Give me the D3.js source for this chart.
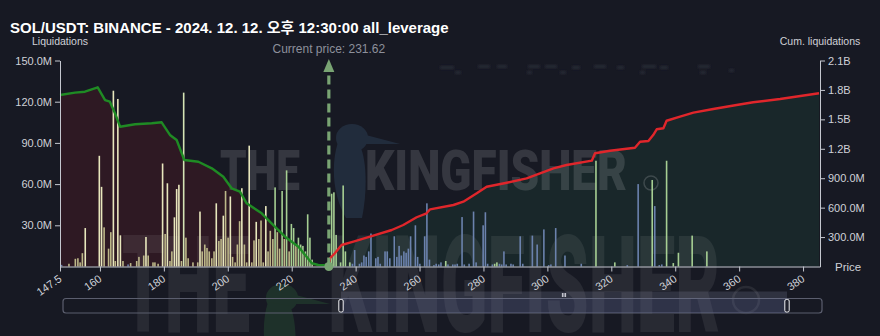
<!DOCTYPE html>
<html>
<head>
<meta charset="utf-8">
<script src="https://cdn.jsdelivr.net/npm/d3@7"></script>
<style>
  html, body { margin: 0; padding: 0; background: #171923; }
  svg { display: block; font-family: "Liberation Sans", Arial, "Noto Sans CJK KR", sans-serif; }
</style>
</head>
<body>
<svg id="chart" width="880" height="336"></svg>
<script>
// ---- chart data -----------------------------------------------------------
const titleText = "SOL/USDT: BINANCE - 2024. 12. 12. 오후 12:30:00 all_leverage";
const currentPrice = 231.62;
const priceDomain = [147.5, 385.3];
const priceTicks = [147.5, 160, 180, 200, 220, 240, 260, 280, 300, 320, 340, 360, 380];
const liqTicks = [30e6, 60e6, 90e6, 120e6, 150e6];
const cumTicks = [300e6, 600e6, 900e6, 1.2e9, 1.5e9, 1.8e9, 2.1e9];

// liquidation levels below the current price (price, millions USD, colour tier)
const longPrices = [148.0,150.3,152.3,153.1,153.8,154.5,155.4,159.8,160.5,161.3,162.7,163.4,164.2,164.8,165.6,166.4,167.2,168.8,169.6,171.5,172.2,173.7,174.4,175.1,176.6,177.2,178.2,179.6,180.4,181.1,181.9,182.5,183.3,184.0,184.7,185.5,186.2,186.9,187.6,189.1,190.6,191.3,192.0,192.8,193.5,194.2,195.0,195.7,196.4,197.2,197.9,198.6,199.3,200.1,200.8,201.5,202.3,203.0,203.7,204.4,205.2,205.9,206.7,207.5,208.2,208.9,209.7,210.4,211.1,211.9,212.6,213.3,214.1,214.8,215.5,216.2,217.0,217.7,218.4,219.2,219.9,220.6,221.3,222.1,222.8,223.5,224.3,225.0,225.7,226.4];
const longValues = [1.2,2,5.6,6,3,9.7,28,80.6,58,28.5,13,25,128,4,122,22.7,4,1.5,2.5,4,7,8,21.5,8,3,3,2,75,23.7,60.6,4,11,35.8,56.4,59.5,4,126.6,21,6,3,3,40,11,16,13.5,11,6,11,46,18.6,20,37,55,21,51,7,3,16,33,57,16,3,88,3,19,32.5,20,33.5,3,44,11,26,20,57.6,25,13,55,20,70,11,31,28,16,21,16,15,11,38,21,5];
const longTiers = ["b","k","k","k","k","k","c","c","c","k","k","k","c","k","c","c","k","b","k","k","k","k","c","k","k","k","k","c","k","c","k","k","c","c","c","k","l","k","k","k","k","c","k","k","k","k","k","k","c","k","k","c","k","k","c","k","k","k","k","c","k","k","c","k","k","c","k","k","k","c","k","k","k","g","k","k","g","k","g","k","g","g","k","g","g","g","g","g","g","g"];

// liquidation levels above the current price
const shortPrices = [232.5,233.2,233.9,235.3,236.1,236.8,238.2,239.0,239.7,241.2,241.9,242.6,243.3,244.1,244.8,246.3,247.0,247.7,249.2,249.9,250.7,252.1,252.9,253.6,254.3,255.1,255.8,256.5,257.2,258.7,259.4,260.1,261.6,262.3,263.1,264.5,265.2,266.0,266.7,268.2,268.9,270.4,271.1,271.8,273.3,274.0,275.5,276.9,277.7,279.9,280.6,281.3,282.8,283.5,284.2,285.0,285.7,286.4,287.1,288.6,289.3,291.5,292.3,295.3,296.8,298.9,300.4,301.1,302.6,305.5,310.6,315.2,321.1,325.0,328.4,332.8,333.6,335.0,335.8,337.3,339.4,341.0,345.3,349.9];
const shortValues = [53,54,23,3,59,11,3,2,12,2,3,8,7,11,24,6,7,2,11,11,6,22,7,15,8,11,10,13,22,30,7,2,22,46,5,1,2,1.5,3,4,1.5,1.5,1.5,2,36,1.5,2,40,3,30,39.5,2,1.5,2,3,2,1.5,11,1.5,2,1.5,22,2,22.5,16,27,1,1.5,28,8,2,77,3,1,60,63,44,1,1.5,77,2.5,10,22.5,11];
const shortTiers = ["g","g","g","g","g","g","g","b","b","b","b","b","b","b","b","b","b","b","b","b","b","b","b","b","b","b","b","b","b","b","b","b","b","b","b","b","b","b","b","g","b","b","b","b","b","b","b","b","b","b","b","b","b","g","g","b","b","b","b","b","b","b","b","b","b","b","b","b","b","b","b","g","g","b","b","g","b","b","b","g","g","g","g","g"];

// cumulative liquidations (billions USD) walking away from the current price
const cumLongPrices = [147.5,152.2,155.3,159.3,161.6,163.1,164.7,166.3,171.0,176.2,179.3,181.9,184.0,186.4,190.8,195.0,198.6,201.2,203.8,205.9,210.6,213.7,217.9,222.1,226.3,228.3,231.62];
const cumLongValues = [1.748,1.772,1.782,1.827,1.697,1.680,1.562,1.425,1.450,1.460,1.470,1.341,1.290,1.086,1.068,1.001,0.915,0.797,0.763,0.644,0.542,0.440,0.304,0.202,0.033,0.015,0.010];
const cumShortPrices = [231.62,232.0,233.5,235.6,239.3,244.5,251.3,254.9,259.1,262.2,263.3,270.6,273.7,277.9,281.0,287.3,293.5,297.7,301.9,306.0,313.9,314.9,319.6,327.4,329.0,331.6,333.1,334.2,336.3,337.3,341.5,345.7,351.9,359.2,364.4,372.8,385.0];
const cumShortValues = [0,0.084,0.135,0.219,0.253,0.304,0.372,0.423,0.502,0.542,0.583,0.627,0.661,0.746,0.813,0.854,0.899,0.950,1.001,1.035,1.079,1.154,1.180,1.211,1.272,1.279,1.340,1.399,1.409,1.486,1.527,1.568,1.606,1.646,1.674,1.707,1.766];

// ---- layout & styles ------------------------------------------------------
const W = 880, H = 336;
const plot = { left: 60, right: 820, top: 60.5, bottom: 266.5 };
const tierColor = { k: "#bdb889", c: "#e8e7bd", l: "#d4e3b4", g: "#a6cf93", b: "#6b82ad" };
const axisColor = "#c4c7cf";
const labelColor = "#cfd1d8";

const svg = d3.select("#chart");

const x = d3.scaleLinear().domain(priceDomain).range([plot.left, plot.right]);
const yLiq = d3.scaleLinear().domain([0, 150e6]).range([plot.bottom, plot.top]);
const yCum = d3.scaleLinear().domain([0, 2.1e9]).range([plot.bottom, plot.top]);

svg.append("rect").attr("width", W).attr("height", H).attr("fill", "#171923");

// ---- cumulative areas -----------------------------------------------------
const longCum = cumLongPrices.map((p, i) => ({ p, v: cumLongValues[i] * 1e9 }));
const shortCum = cumShortPrices.map((p, i) => ({ p, v: cumShortValues[i] * 1e9 }));

const area = d3.area().x(d => x(d.p)).y0(plot.bottom).y1(d => yCum(d.v));
const line = d3.line().x(d => x(d.p)).y(d => yCum(d.v));

svg.append("path").datum(longCum).attr("d", area).attr("fill", "#2e1923");
svg.append("path").datum(shortCum).attr("d", area).attr("fill", "#19272a");

// ---- watermark ------------------------------------------------------------
const wm = svg.append("g").attr("pointer-events", "none");
function bird(g, tx, ty, s, col, op) {
  const b = g.append("g").attr("transform", `translate(${tx},${ty}) scale(${s})`).attr("opacity", op);
  b.append("ellipse").attr("cx", 0).attr("cy", 0).attr("rx", 16).attr("ry", 14).attr("fill", col);
  b.append("path").attr("d", "M10,-4 L48,6 L10,6 Z").attr("fill", col);
  b.append("path").attr("d", "M-14,4 C-22,30 -18,60 -6,80 L10,80 C16,50 14,20 8,8 Z").attr("fill", col);
}
bird(wm, 352, 138, 1.0, "#3a5878", 0.3);
bird(wm, 282, 298, 1.0, "#2f6a3a", 0.3);

// condensed lettering: set at natural width, then squeezed horizontally
function wordmark(g, word, left, baseline, size, width, op) {
  const t = g.append("text").attr("font-size", size).attr("font-weight", 900)
    .attr("font-family", "Roboto, Inter, sans-serif")
    .attr("fill", "#ffffff").attr("opacity", op).text(word);
  const natural = t.node().getComputedTextLength();
  t.attr("transform", `translate(${left},${baseline}) scale(${width / natural},1)`);
}
wordmark(wm, "THE", 220, 190, 56, 80, 0.13);
wordmark(wm, "KINGFISHER", 365, 190, 56, 262, 0.13);
wm.append("circle").attr("cx", 651).attr("cy", 183).attr("r", 7).attr("fill", "none")
  .attr("stroke", "#ffffff").attr("stroke-width", 1.5).attr("opacity", 0.16);

wordmark(wm, "THE", 122, 332, 136, 128, 0.07);
wordmark(wm, "KINGFISHER", 328, 332, 136, 392, 0.07);
wm.append("circle").attr("cx", 746).attr("cy", 300).attr("r", 13).attr("fill", "none")
  .attr("stroke", "#ffffff").attr("stroke-width", 2.5).attr("opacity", 0.08);

// faint blurred caption strip near the top
svg.append("defs").append("filter").attr("id", "soft").append("feGaussianBlur").attr("stdDeviation", 1.2);
const strip = svg.append("g").attr("filter", "url(#soft)").attr("fill", "#272935");
[[440,66,14],[478,65,12],[497,65,10],[528,65,12],[545,65,12],[572,66,8],[594,65,12],[617,66,7],[642,65,14],[660,66,8],[698,65,12],[729,69,5],[455,71,6],[527,71,5],[560,71,6],[640,71,5],[700,71,6]]
  .forEach(([sx, sy, sw]) => strip.append("rect").attr("x", sx).attr("y", sy).attr("width", sw).attr("height", 3));

// ---- liquidation bars -----------------------------------------------------
const bars = longPrices.map((p, i) => ({ p, v: longValues[i] * 1e6, t: longTiers[i] }))
  .concat(shortPrices.map((p, i) => ({ p, v: shortValues[i] * 1e6, t: shortTiers[i] })));
const barW = 1.6;
svg.append("g").selectAll("rect").data(bars).join("rect")
  .attr("x", d => x(d.p) - barW / 2)
  .attr("y", d => yLiq(d.v))
  .attr("width", barW)
  .attr("height", d => plot.bottom - yLiq(d.v))
  .attr("fill", d => tierColor[d.t]);

// ---- cumulative lines -----------------------------------------------------
svg.append("path").datum(longCum).attr("d", line).attr("fill", "none")
  .attr("stroke", "#1f8b24").attr("stroke-width", 2.4).attr("stroke-linejoin", "round");
svg.append("path").datum(shortCum).attr("d", line).attr("fill", "none")
  .attr("stroke", "#e0262b").attr("stroke-width", 2.4).attr("stroke-linejoin", "round");

// ---- axes -----------------------------------------------------------------
function styleAxis(g) {
  g.selectAll(".domain").attr("stroke", axisColor);
  g.selectAll(".tick line").attr("stroke", axisColor);
  g.selectAll(".tick text").attr("fill", labelColor).attr("font-size", 11)
    .attr("font-family", "\"Liberation Sans\", Arial, sans-serif");
}

const fmtM = d => (d / 1e6).toFixed(1) + "M";
const fmtCum = d => d >= 1e9 ? (d / 1e9).toFixed(1) + "B" : (d / 1e6).toFixed(1) + "M";

svg.append("g").attr("transform", `translate(${plot.left},0)`)
  .call(d3.axisLeft(yLiq).tickValues(liqTicks).tickFormat(fmtM).tickSize(5).tickSizeOuter(0).tickPadding(3))
  .call(styleAxis);

svg.append("g").attr("transform", `translate(${plot.right},0)`)
  .call(d3.axisRight(yCum).tickValues(cumTicks).tickFormat(fmtCum).tickSize(5).tickSizeOuter(0).tickPadding(3))
  .call(styleAxis);

const xAxis = svg.append("g").attr("transform", `translate(0,${plot.bottom})`)
  .call(d3.axisBottom(x).tickValues(priceTicks).tickFormat(d => String(d)).tickSize(5).tickSizeOuter(0))
  .call(styleAxis);
xAxis.selectAll(".tick text")
  .attr("text-anchor", "end")
  .attr("dy", null).attr("y", null)
  .attr("transform", "translate(2,14) rotate(-35)");

// axis captions
svg.append("text").attr("x", 60).attr("y", 45).attr("text-anchor", "middle")
  .attr("font-size", 10.5).attr("fill", labelColor).text("Liquidations");
svg.append("text").attr("x", 820).attr("y", 45).attr("text-anchor", "middle")
  .attr("font-size", 10.5).attr("fill", labelColor).text("Cum. liquidations");
svg.append("text").attr("x", 835).attr("y", 270.5)
  .attr("font-size", 11.5).attr("fill", labelColor).text("Price");

// ---- current price marker -------------------------------------------------
const cx = x(currentPrice);
const markerColor = "#79a473";
svg.append("line").attr("x1", cx).attr("x2", cx).attr("y1", plot.bottom).attr("y2", 70)
  .attr("stroke", markerColor).attr("stroke-width", 3.2).attr("stroke-dasharray", "9,5");
svg.append("path").attr("d", `M${cx},59 L${cx - 5.5},72 L${cx + 5.5},72 Z`).attr("fill", markerColor);
svg.append("circle").attr("cx", cx).attr("cy", plot.bottom).attr("r", 4.5).attr("fill", markerColor);
svg.append("text").attr("x", cx).attr("y", 53).attr("text-anchor", "middle")
  .attr("font-size", 12).attr("fill", "#8d909b").text("Current price: " + currentPrice.toFixed(2));

// ---- title ----------------------------------------------------------------
svg.append("text").attr("x", 10).attr("y", 33)
  .attr("font-size", 15).attr("font-weight", "bold").attr("fill", "#ffffff")
  .text(titleText);

// ---- zoom slider ----------------------------------------------------------
const slider = { x0: 63, x1: 822, y: 298.5, h: 14.5, s0: 341, s1: 787 };
svg.append("rect").attr("x", slider.x0).attr("y", slider.y).attr("width", slider.x1 - slider.x0)
  .attr("height", slider.h).attr("rx", 3).attr("fill", "none").attr("stroke", "#5b5e6e").attr("stroke-width", 1.2);
svg.append("rect").attr("x", slider.s0).attr("y", slider.y).attr("width", slider.s1 - slider.s0)
  .attr("height", slider.h).attr("fill", "#6e78aa").attr("opacity", 0.28);
svg.append("rect").attr("x", slider.s0).attr("y", slider.y - 7).attr("width", slider.s1 - slider.s0)
  .attr("height", 7).attr("fill", "#8a8fa8").attr("opacity", 0.22);
[-1.6, 0, 1.6].forEach(o => svg.append("line")
  .attr("x1", (slider.s0 + slider.s1) / 2 + o).attr("x2", (slider.s0 + slider.s1) / 2 + o)
  .attr("y1", slider.y - 5.5).attr("y2", slider.y - 1.5).attr("stroke", "#e6e6ee").attr("stroke-width", 0.9));
[slider.s0, slider.s1].forEach(hx => svg.append("rect")
  .attr("x", hx - 2.2).attr("y", slider.y + 1).attr("width", 4.4).attr("height", slider.h - 2)
  .attr("rx", 1.5).attr("fill", "#20222e").attr("stroke", "#f2f2f5").attr("stroke-width", 1));
</script>
</body>
</html>
